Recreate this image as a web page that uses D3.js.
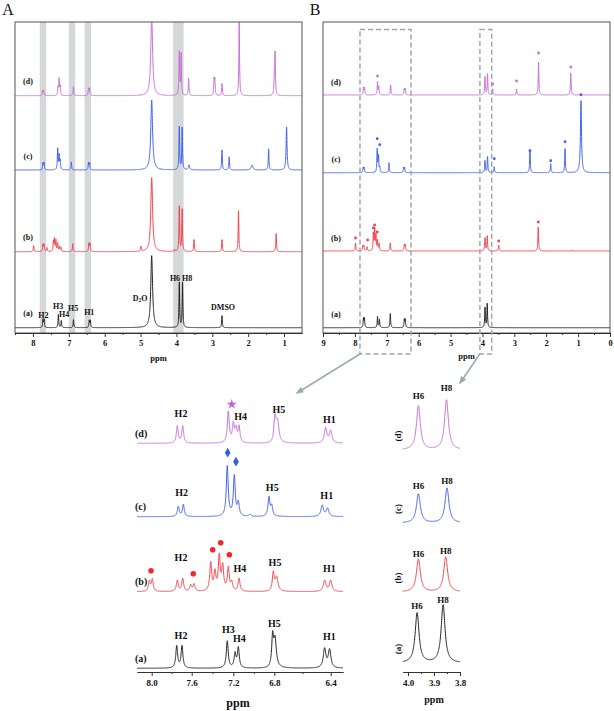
<!DOCTYPE html>
<html><head><meta charset="utf-8">
<script src="https://cdn.jsdelivr.net/npm/d3@7"></script>
<style>
body{margin:0;background:#fff}
text{font-family:"Liberation Serif","Times New Roman",serif;}
</style></head>
<body><svg id="c" width="614" height="711"></svg>
<script>
// ---------------- DATA ----------------
const colA = "#222222", colB = "#f2414b", colC = "#4060f0", colD = "#c870d8";
const traceNames = ["(a)", "(b)", "(c)", "(d)"];

// Panel A peaks: [ppm, intensity, halfwidth?]
const peaksA_a = [[7.72,8],[7.69,8],[7.29,13],[7.21,7],[6.87,8],[6.43,7],[6.40,7],[4.69,72,0.03],[3.92,45],[3.83,45],[2.73,12]];
const peaksA_b = [[7.98,6],[7.72,7],[7.69,7],[7.61,4],[7.43,10],[7.40,12],[7.36,11],[7.31,8],[7.26,5],[7.22,4],[6.89,8],[6.44,8],[6.41,8],[4.99,5],[4.69,74,0.03],[4.05,2],[3.92,45],[3.84,42],[3.51,12],[2.73,12],[2.27,41],[1.22,18]];
const peaksA_c = [[7.72,7],[7.69,7],[7.31,21],[7.27,14],[7.24,9],[6.93,8],[6.45,7],[6.42,7],[4.69,70,0.03],[3.92,43],[3.84,42],[3.65,5,0.02],[2.73,20],[2.53,13],[1.89,5,0.03],[1.43,21],[0.93,43,0.015]];
const peaksA_d = [[7.73,5],[7.70,5],[7.30,8],[7.27,16],[7.24,9],[6.87,9],[6.45,7],[6.42,7],[4.69,80,0.03],[3.92,43],[3.87,41],[3.66,17],[2.95,15],[2.93,15],[2.73,12],[2.25,74],[1.27,20],[1.25,40]];
const ticksA = [8,7,6,5,4,3,2,1];
const bandsA = [[7.81,7.63],[7.00,6.82],[6.56,6.38],[4.09,3.80]];
const labelsA = [["H2",7.71,12],["H3",7.30,21],["H4",7.13,13],["H5",6.88,19],["H1",6.43,15],["H6",4.04,49],["H8",3.70,49],["DMSO",2.70,20]];
const d2oA = [5.01, 30];

// Panel B peaks
const peaksB_a = [[7.73,9],[7.70,9],[7.29,11],[7.23,8],[6.89,14],[6.45,8],[6.42,8],[3.92,20],[3.85,24]];
const peaksB_b = [[7.98,8],[7.75,5],[7.72,5],[7.62,4],[7.42,17],[7.38,21],[7.34,15],[7.29,10],[7.24,7],[6.89,8],[6.45,6],[6.42,6],[3.92,13],[3.85,15],[3.49,6],[2.25,24],[1.20,1]];
const peaksB_c = [[7.74,5],[7.71,5],[7.30,23],[7.26,16],[7.22,5],[6.93,10],[6.47,5],[6.44,5],[3.92,12],[3.84,16],[3.63,6],[2.51,23],[1.86,9],[1.41,24],[0.91,72,0.02]];
const peaksB_d = [[7.73,7],[7.70,7],[7.29,13],[7.25,8],[6.88,10],[6.45,6],[6.42,6],[3.92,18],[3.84,21],[3.68,6],[2.93,6],[2.24,33],[1.23,22]];
const marksB_b = [[7.98,13],[7.60,11],[7.42,23],[7.38,26],[7.30,19],[3.49,10],[2.25,29]];
const marksB_c = [[7.30,34],[7.22,28],[3.63,14],[2.51,22],[1.86,12],[1.41,31],[0.91,78]];
const marksB_d = [[7.29,19],[3.68,11],[2.93,14],[2.24,42],[1.23,28]];
const ticksB = [9,8,7,6,5,4,3,2,1,0];
const boxesB = [[7.84,6.24],[4.08,3.71]];

// Bottom-left (aromatic expansion)
const peaksL_a = [[7.75,22],[7.697,22],[7.258,27],[7.183,14],[7.151,20],[6.816,32],[6.795,26],[6.443,19],[6.408,18]];
const peaksL_b = [[8.024,10],[7.994,12],[7.744,11],[7.69,13],[7.61,6],[7.578,7],[7.417,28],[7.376,18],[7.335,34],[7.302,24],[7.248,23],[7.215,8],[7.144,13],[6.81,19],[6.783,13],[6.443,11],[6.40,11]];
const peaksL_c = [[7.734,10],[7.684,12],[7.258,50],[7.19,40],[7.151,13],[7.037,2],[6.852,19],[6.825,10],[6.46,11],[6.422,8]];
const peaksL_d = [[7.744,17],[7.69,17],[7.248,31],[7.2,18],[7.174,13],[7.144,16],[6.795,25],[6.776,18],[6.436,15],[6.40,12]];
const ticksL = [8.0,7.6,7.2,6.8,6.4];
const minorL = [7.8,7.4,7.0,6.6];
const labelsL_a = [["H2",7.707,33],["H3",7.248,39],["H4",7.141,30],["H5",6.80,45],["H1",6.41,32]];
const labelsL_b = [["H2",7.707,34],["H4",7.135,23],["H5",6.795,29],["H1",6.41,23]];
const labelsL_c = [["H2",7.70,24],["H5",6.82,29],["H1",6.428,21]];
const labelsL_d = [["H2",7.707,30],["H4",7.128,27],["H5",6.767,34],["H1",6.41,24]];
const dotsL_b = [[8.007,21],[7.585,18],[7.398,42],[7.321,49],[7.238,37]];
const diamondsL_c = [[7.254,64],[7.174,55]];
const starL_d = [[7.215,39]];

// Bottom-right (H6/H8 expansion)
const peaksR_a = [[3.965,50],[3.865,58]];
const peaksR_b = [[3.96,33],[3.855,35]];
const peaksR_c = [[3.96,29],[3.85,35]];
const peaksR_d = [[3.96,44],[3.852,50]];
const ticksR = [4.0,3.9,3.8];
const minorR = [3.95,3.85];
const labelH8 = [63,41,42,62];   // a,b,c,d heights of H8 label
const labelH6 = [57,38,37,54];

// ---------------- DRAW ----------------
const svg = d3.select("#c");
const defs = svg.append("defs");

function spectrum(peaks, hi, lo, step, w0){
  const pts = [];
  for (let p = hi; p >= lo - 1e-9; p -= step){
    let s = 0;
    for (const pk of peaks){ const w = pk[2] || w0; const d = (p - pk[0]) / w; s += pk[1] / (1 + d*d); }
    pts.push([p, s]);
  }
  return pts;
}
function drawTrace(g, x, base, peaks, color, hi, lo, step, w0, sw){
  const y = d3.scaleLinear().domain([0,100]).range([base, base-100]);
  const line = d3.line().x(d=>x(d[0])).y(d=>y(d[1]));
  g.append("path").attr("d", line(spectrum(peaks, hi, lo, step, w0)))
    .attr("fill","none").attr("stroke",color).attr("stroke-width",sw||1).attr("stroke-linejoin","round");
  return y;
}
function txt(g, s, x, y, size, opts){
  opts = opts || {};
  return g.append("text").attr("x",x).attr("y",y).text(s)
    .attr("font-size",size).attr("font-weight",opts.weight||"bold")
    .attr("text-anchor",opts.anchor||"middle").attr("dominant-baseline","central")
    .attr("fill",opts.fill||"#111");
}
function styleAxis(ax, size){
  ax.selectAll("path,line").attr("stroke","#333").attr("stroke-width",1);
  ax.selectAll("text").attr("font-size",size).attr("font-weight","bold").attr("fill","#111")
    .attr("font-family","'Liberation Serif','Times New Roman',serif");
}

// ===== Panel A =====
const A = {l:15, r:302, t:22, b:333};
const xA = d3.scaleLinear().domain([8.5,0.5]).range([A.l, A.r]);
txt(svg,"A",8,9,16,{weight:"normal"});
const gA = svg.append("g");
defs.append("clipPath").attr("id","clipA").append("rect").attr("x",A.l).attr("y",A.t).attr("width",A.r-A.l).attr("height",A.b-A.t);
gA.selectAll("rect.band").data(bandsA).join("rect")
  .attr("x",d=>xA(d[0])).attr("width",d=>xA(d[1])-xA(d[0]))
  .attr("y",A.t).attr("height",A.b-A.t).attr("fill","#d4d8d8");
const gAc = gA.append("g").attr("clip-path","url(#clipA)");
const baseA = [327.7, 251.7, 170, 95.7];
const colsAll = [colA, colB, colC, colD];
[peaksA_a, peaksA_b, peaksA_c, peaksA_d].forEach((pk,i)=>{
  drawTrace(gAc, xA, baseA[i], pk, colsAll[i], 8.5, 0.5, 0.002, 0.011, 1);
  txt(gA, traceNames[i], 28, baseA[i]-14, 8);
});
const yAa = d3.scaleLinear().domain([0,100]).range([baseA[0], baseA[0]-100]);
labelsA.forEach(l=>txt(gA, l[0], xA(l[1]), yAa(l[2]), 8));
const d2o = gA.append("text").attr("x",xA(d2oA[0])).attr("y",yAa(d2oA[1])).attr("font-size",8).attr("font-weight","bold")
  .attr("text-anchor","middle").attr("dominant-baseline","central").attr("fill","#111");
d2o.append("tspan").text("D");
d2o.append("tspan").text("2").attr("font-size",5.5).attr("dy",2);
d2o.append("tspan").text("O").attr("dy",-2);
gA.append("rect").attr("x",A.l).attr("y",A.t).attr("width",A.r-A.l).attr("height",A.b-A.t)
  .attr("fill","none").attr("stroke","#555").attr("stroke-width",1);
const axA = gA.append("g").attr("transform",`translate(0,${A.b})`)
  .call(d3.axisBottom(xA).tickValues(ticksA).tickSize(4).tickSizeOuter(0).tickPadding(3).tickFormat(d3.format("d")));
styleAxis(axA, 8.5);
const axAm = gA.append("g").attr("transform",`translate(0,${A.b})`)
  .call(d3.axisBottom(xA).tickValues(d3.range(8.5,0.5,-1)).tickSize(2).tickSizeOuter(0).tickFormat(""));
styleAxis(axAm, 8);
txt(gA,"ppm",(A.l+A.r)/2,358,8.5);

// ===== Panel B =====
const B = {l:323, r:610, t:22, b:333};
const xB = d3.scaleLinear().domain([9,0]).range([B.l, B.r]);
txt(svg,"B",315,9,16,{weight:"normal"});
const gB = svg.append("g");
defs.append("clipPath").attr("id","clipB").append("rect").attr("x",B.l).attr("y",B.t).attr("width",B.r-B.l).attr("height",B.b-B.t);
const gBc = gB.append("g").attr("clip-path","url(#clipB)");
const baseB = [327.7, 251, 172.7, 95];
const marksB = [[], marksB_b, marksB_c, marksB_d];
[peaksB_a, peaksB_b, peaksB_c, peaksB_d].forEach((pk,i)=>{
  const y = drawTrace(gBc, xB, baseB[i], pk, colsAll[i], 9, 0, 0.002, 0.012, 1);
  txt(gB, traceNames[i], 336, baseB[i]-13, 8);
  gB.selectAll(null).data(marksB[i]).join("circle")
    .attr("cx",d=>xB(d[0])).attr("cy",d=>y(d[1])).attr("r",1.4).attr("fill",colsAll[i]);
});
gB.append("rect").attr("x",B.l).attr("y",B.t).attr("width",B.r-B.l).attr("height",B.b-B.t)
  .attr("fill","none").attr("stroke","#555").attr("stroke-width",1);
const axB = gB.append("g").attr("transform",`translate(0,${B.b})`)
  .call(d3.axisBottom(xB).tickValues(ticksB).tickSize(4).tickSizeOuter(0).tickPadding(3).tickFormat(d3.format("d")));
styleAxis(axB, 8.5);
const axBm = gB.append("g").attr("transform",`translate(0,${B.b})`)
  .call(d3.axisBottom(xB).tickValues(d3.range(8.5,0,-1)).tickSize(2).tickSizeOuter(0).tickFormat(""));
styleAxis(axBm, 8);
txt(gB,"ppm",(B.l+B.r)/2,356,8.5);
// dashed boxes
const boxTop = 29.5, boxBot = 354;
gB.selectAll("rect.dbox").data(boxesB).join("rect")
  .attr("x",d=>xB(d[0])).attr("width",d=>xB(d[1])-xB(d[0]))
  .attr("y",boxTop).attr("height",boxBot-boxTop)
  .attr("fill","none").attr("stroke","#9aa8ae").attr("stroke-width",1.5).attr("stroke-dasharray","5,3");

// ===== Bottom-left =====
const xL = d3.scaleLinear().domain([8.15,8.0,7.6,7.2,6.8,6.4,6.31]).range([137,151.7,191.7,233.3,274.3,330.7,343]);
const gL = svg.append("g");
const baseL = [668.3, 591.7, 516.7, 443.3];
const labelsL = [labelsL_a, labelsL_b, labelsL_c, labelsL_d];
const ysL = [];
[peaksL_a, peaksL_b, peaksL_c, peaksL_d].forEach((pk,i)=>{
  const y = drawTrace(gL, xL, baseL[i], pk, colsAll[i], 8.15, 6.31, 0.001, 0.011, 1);
  ysL.push(y);
  txt(gL, traceNames[i], 135, baseL[i]-10, 10, {anchor:"start"});
  labelsL[i].forEach(l=>txt(gL, l[0], xL(l[1]), y(l[2]), 10));
});
gL.selectAll(null).data(dotsL_b).join("circle")
  .attr("cx",d=>xL(d[0])).attr("cy",d=>ysL[1](d[1])).attr("r",2.8).attr("fill","#ee2a2a");
gL.selectAll(null).data(diamondsL_c).join("path")
  .attr("d",d3.symbol(d3.symbolDiamond,28)).attr("transform",d=>`translate(${xL(d[0])},${ysL[2](d[1])})`).attr("fill","#3060e8");
gL.selectAll(null).data(starL_d).join("path")
  .attr("d",d3.symbol(d3.symbolStar,32)).attr("transform",d=>`translate(${xL(d[0])},${ysL[3](d[1])})`).attr("fill","#c060e0");
const axL = gL.append("g").attr("transform","translate(0,672)")
  .call(d3.axisBottom(xL).tickValues(ticksL).tickSize(4).tickSizeOuter(0).tickPadding(4).tickFormat(d3.format(".1f")));
styleAxis(axL, 9);
const axLm = gL.append("g").attr("transform","translate(0,672)")
  .call(d3.axisBottom(xL).tickValues(minorL).tickSize(2).tickSizeOuter(0).tickFormat(""));
styleAxis(axLm, 9);
txt(gL,"ppm",238,703,12);

// ===== Bottom-right =====
const xR = d3.scaleLinear().domain([4.02,3.80]).range([402.8,460]);
const gR = svg.append("g");
const baseR = [663, 592, 523, 450];
[peaksR_a, peaksR_b, peaksR_c, peaksR_d].forEach((pk,i)=>{
  const y = drawTrace(gR, xR, baseR[i], pk, colsAll[i], 4.02, 3.80, 0.0005, 0.009, 1);
  txt(gR,"H6", xR(pk[0][0]), y(labelH6[i]), 9);
  txt(gR,"H8", xR(pk[1][0]), y(labelH8[i]), 9);
  txt(gR, traceNames[i], 0, 0, 9).attr("transform",`translate(${398},${baseR[i]-14}) rotate(-90)`);
});
const axR = gR.append("g").attr("transform","translate(0,672)")
  .call(d3.axisBottom(xR).tickValues(ticksR).tickSize(4).tickSizeOuter(0).tickPadding(4).tickFormat(d3.format(".1f")));
styleAxis(axR, 9);
const axRm = gR.append("g").attr("transform","translate(0,672)")
  .call(d3.axisBottom(xR).tickValues(minorR).tickSize(2).tickSizeOuter(0).tickFormat(""));
styleAxis(axRm, 9);
txt(gR,"ppm",xR(3.9),699,10);

// ===== Arrows =====
defs.append("marker").attr("id","arr").attr("viewBox","0 0 10 10").attr("refX",8).attr("refY",5)
  .attr("markerWidth",5).attr("markerHeight",5).attr("orient","auto")
  .append("path").attr("d","M0,1 L10,5 L0,9 z").attr("fill","#9aabb3");
const arrows = [[xB(boxesB[0][0]), boxBot, 297, 393],[xB(boxesB[1][0]), boxBot, 460, 383]];
svg.selectAll("line.arrow").data(arrows).join("line")
  .attr("x1",d=>d[0]).attr("y1",d=>d[1]).attr("x2",d=>d[2]).attr("y2",d=>d[3])
  .attr("stroke","#9aabb3").attr("stroke-width",1.6).attr("marker-end","url(#arr)");
</script></body></html>
